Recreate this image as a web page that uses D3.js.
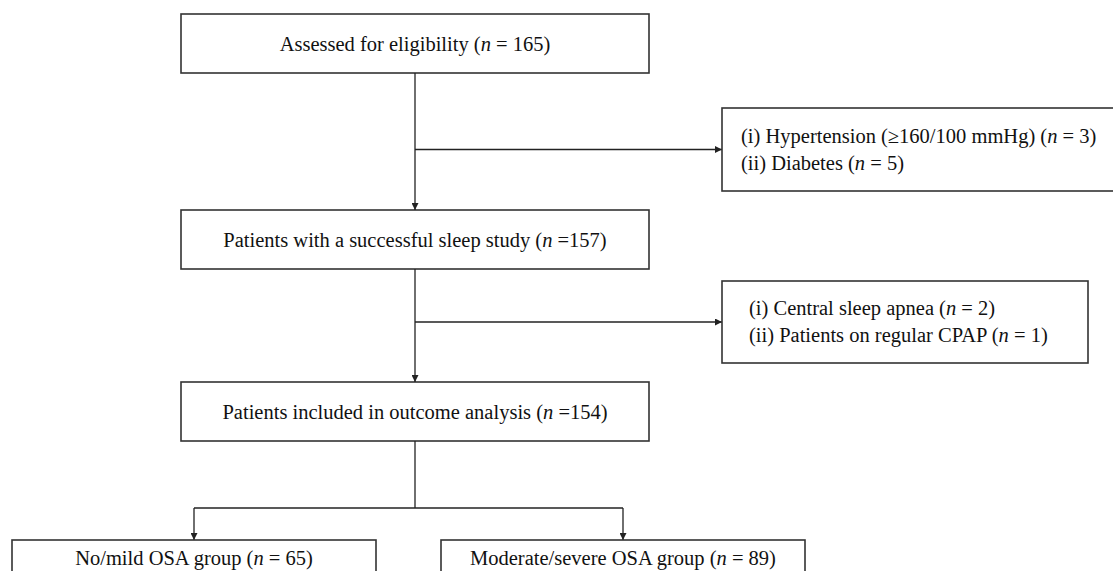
<!DOCTYPE html>
<html>
<head>
<meta charset="utf-8">
<script src="https://cdn.jsdelivr.net/npm/d3@7"></script>
<style>
  html, body { margin: 0; padding: 0; background: #fff; }
  svg { display: block; }
  .box { fill: #fff; stroke: #333; stroke-width: 1.6; }
  .link { fill: none; stroke: #222; stroke-width: 1.3; }
  text { font-family: "Liberation Serif", "DejaVu Serif", serif; font-size: 20.5px; fill: #111; }
</style>
</head>
<body>
<svg id="chart" width="1113" height="571"></svg>
<script>
// flow data
const mainSteps = ['Assessed for eligibility', 'Patients with a successful sleep study', 'Patients included in outcome analysis'];
const mainCounts = [165, 157, 154];
const mainEq = [' = ', ' =', ' ='];

const exclusionLabels = [
  ['(i) Hypertension (\u2265160/100 mmHg)', '(ii) Diabetes'],
  ['(i) Central sleep apnea', '(ii) Patients on regular CPAP']
];
const exclusionCounts = [[3, 5], [2, 1]];

const groupLabels = ['No/mild OSA group', 'Moderate/severe OSA group'];
const groupCounts = [65, 89];

const width = 1113, height = 571;
const svg = d3.select('#chart');

const defs = svg.append('defs');
defs.append('marker')
  .attr('id', 'arrow')
  .attr('viewBox', '0 0 10 10')
  .attr('refX', 10).attr('refY', 5)
  .attr('markerWidth', 7).attr('markerHeight', 7)
  .attr('markerUnits', 'userSpaceOnUse')
  .attr('orient', 'auto')
  .append('path')
  .attr('d', 'M0,0L10,5L0,10Z')
  .attr('fill', '#222');

// layout
const mainX = d3.scaleLinear().domain([0, 1]).range([181, 649]);
const mainTop = d3.scaleOrdinal().domain(d3.range(mainSteps.length)).range([14, 210, 382]);
const boxH = 59;
const cx = (mainX(0) + mainX(1)) / 2;

const sideTop = [108, 281];
const sideBottom = [191, 363];
const sideLeft = 722;
const sideRight = [1125, 1088];
const sideTextX = [741, 749];

const groupX = d3.scalePoint().domain(d3.range(groupLabels.length)).range([194, 623]);
const groupW = 364;
const branchY = 508;
const groupTop = 540;

function label(sel, name, eq, n) {
  sel.append('tspan').text(name + ' (');
  sel.append('tspan').attr('font-style', 'italic').text('n');
  sel.append('tspan').text(eq + n + ')');
}

// main boxes
mainSteps.forEach((s, i) => {
  const y0 = mainTop(i);
  svg.append('rect').attr('class', 'box')
    .attr('x', mainX(0)).attr('y', y0)
    .attr('width', mainX(1) - mainX(0)).attr('height', boxH);
  const t = svg.append('text')
    .attr('x', cx).attr('y', y0 + boxH / 2 + 7)
    .attr('text-anchor', 'middle');
  label(t, s, mainEq[i], mainCounts[i]);
});

// vertical links between main boxes + exclusion branches
exclusionLabels.forEach((lines, i) => {
  const yA = mainTop(i) + boxH;
  const yB = mainTop(i + 1);
  svg.append('line').attr('class', 'link')
    .attr('x1', cx).attr('y1', yA).attr('x2', cx).attr('y2', yB)
    .attr('marker-end', 'url(#arrow)');

  const midY = (sideTop[i] + sideBottom[i]) / 2;
  svg.append('line').attr('class', 'link')
    .attr('x1', cx).attr('y1', midY).attr('x2', sideLeft).attr('y2', midY)
    .attr('marker-end', 'url(#arrow)');

  svg.append('rect').attr('class', 'box')
    .attr('x', sideLeft).attr('y', sideTop[i])
    .attr('width', sideRight[i] - sideLeft).attr('height', sideBottom[i] - sideTop[i]);

  lines.forEach((ln, j) => {
    const t = svg.append('text')
      .attr('x', sideTextX[i])
      .attr('y', midY - 7 + j * 27);
    label(t, ln, ' = ', exclusionCounts[i][j]);
  });
});

// split into groups
const lastBottom = mainTop(mainSteps.length - 1) + boxH;
svg.append('line').attr('class', 'link')
  .attr('x1', cx).attr('y1', lastBottom).attr('x2', cx).attr('y2', branchY);
svg.append('line').attr('class', 'link')
  .attr('x1', groupX(0)).attr('y1', branchY).attr('x2', groupX(1)).attr('y2', branchY);

groupLabels.forEach((g, i) => {
  const gx = groupX(i);
  svg.append('line').attr('class', 'link')
    .attr('x1', gx).attr('y1', branchY).attr('x2', gx).attr('y2', groupTop)
    .attr('marker-end', 'url(#arrow)');
  svg.append('rect').attr('class', 'box')
    .attr('x', gx - groupW / 2).attr('y', groupTop)
    .attr('width', groupW).attr('height', 60);
  const t = svg.append('text')
    .attr('x', gx).attr('y', groupTop + 25)
    .attr('text-anchor', 'middle');
  label(t, g, ' = ', groupCounts[i]);
});
</script>
</body>
</html>
